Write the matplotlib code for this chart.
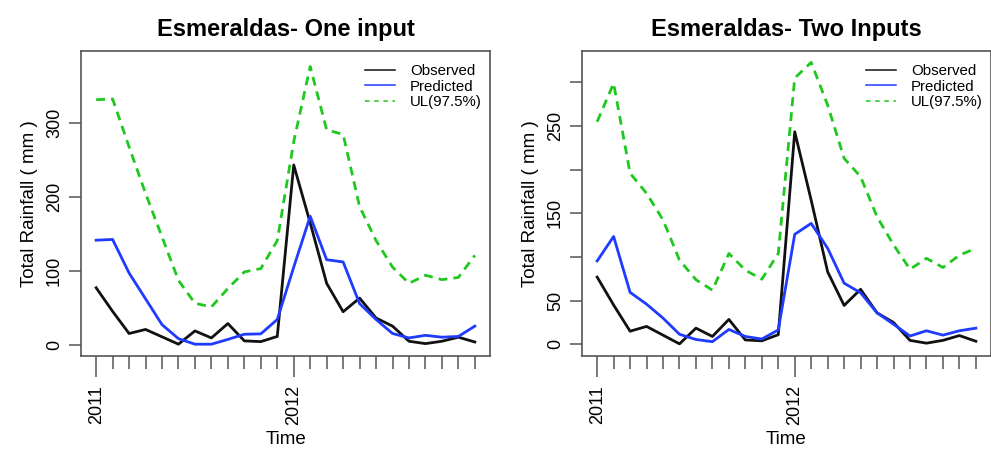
import numpy as np
import matplotlib
matplotlib.use("Agg")
import matplotlib.pyplot as plt
from matplotlib.lines import Line2D

plt.rcParams['font.family'] = ['Liberation Sans', 'DejaVu Sans']

# ---- data ----
time = 2011 + np.arange(24) / 12.0
year_ticks = [2011, 2012]
year_labels = ["2011", "2012"]

observed = [77, 45, 15, 20.5, 10.5, 0.5, 18.5, 9, 28.5, 5, 4, 11,
            243.5, 165, 83, 44.5, 63, 36, 25, 4.5, 1.3, 4.5, 10, 3.5]

pred_one = [141.5, 142.5, 97, 62, 27, 8, 0.5, 0.5, 7, 14, 14.5, 34,
            105, 174, 115, 112, 55.5, 34, 15, 9, 12.5, 10, 11, 25]
ul_one = [332, 333, 268, 205, 146, 87, 56, 51, 76, 98.5, 103, 141,
          275, 377, 291, 285, 187, 141, 105, 83, 94, 88, 91, 121]

pred_two = [95.5, 123.5, 59.5, 46, 30, 11.5, 5.5, 3, 17, 9, 6, 16.5,
            126, 138.5, 110, 70, 59, 36, 23, 9.5, 15.5, 10.5, 15.5, 18.5]
ul_two = [255, 299, 196, 173, 142.5, 96.5, 74, 62, 104, 85, 74.5, 104,
          305, 323, 274, 213, 192, 146, 114, 86, 98.5, 88, 102, 110]

titles = ["Esmeraldas- One input", "Esmeraldas- Two Inputs"]
legend_labels = ["Observed", "Predicted", "UL(97.5%)"]

# ---- style ----
W, H = 991, 450
fig = plt.figure(figsize=(W / 100, H / 100), dpi=100)
frame_col = "#555555"
c_obs, c_pred, c_ul = "#111111", "#1f3bff", "#1ec81e"

panels = [
    dict(left=81, right=490, pred=pred_one, ul=ul_one, ylim=(-15.5, 398),
         yticks=[0, 100, 200, 300], ylabels=["0", "100", "200", "300"]),
    dict(left=582, right=991, pred=pred_two, ul=ul_two, ylim=(-13.4, 336),
         yticks=[0, 50, 100, 150, 200, 250, 300],
         ylabels=["0", "50", "", "150", "", "250", ""]),
]
top_px, bot_px = 51, 356

for k, p in enumerate(panels):
    ax = fig.add_axes([p['left'] / W, 1 - bot_px / H,
                       (p['right'] - p['left']) / W, (bot_px - top_px) / H])
    ax.plot(time, observed, color=c_obs, lw=2.0)
    ax.plot(time, p['pred'], color=c_pred, lw=2.0)
    ax.plot(time, p['ul'], color=c_ul, lw=2.0, dashes=(3.2, 2.2))

    ax.set_xlim(2011 - 0.0767, 2011 + 23 / 12 + 0.0767)
    ax.set_ylim(*p['ylim'])

    for s in ax.spines.values():
        s.set_color(frame_col)
        s.set_linewidth(1.2)

    # y axis
    ax.set_yticks(p['yticks'])
    ax.set_yticklabels(p['ylabels'], rotation=90, va='center', fontsize=13)
    ax.tick_params(axis='y', length=9, width=1.1, color=frame_col, pad=4)

    # x axis: minor monthly ticks, major yearly ticks
    ax.set_xticks(year_ticks)
    ax.set_xticklabels(year_labels, rotation=90, fontsize=13)
    ax.set_xticks(time, minor=True)
    ax.tick_params(axis='x', which='major', length=15, width=1.1,
                   color=frame_col, pad=6)
    ax.tick_params(axis='x', which='minor', length=9, width=1.1,
                   color=frame_col)

    ax.set_xlabel("Time", fontsize=13.5, labelpad=4)
    ax.set_ylabel("Total Rainfall ( mm )", fontsize=13.5, labelpad=6)
    ax.set_title(titles[k], fontsize=17, fontweight='bold', pad=11)

    handles = [Line2D([], [], color=c_obs, lw=1.1),
               Line2D([], [], color=c_pred, lw=1.1),
               Line2D([], [], color=c_ul, lw=1.1, dashes=(3, 3))]
    ax.legend(handles, legend_labels, loc='upper left',
              bbox_to_anchor=(0.694, 0.958), frameon=False, fontsize=10.8,
              handlelength=2.0, handletextpad=1.0, labelspacing=0.12,
              borderpad=0, borderaxespad=0)

fig.savefig("out.png", dpi=100)
